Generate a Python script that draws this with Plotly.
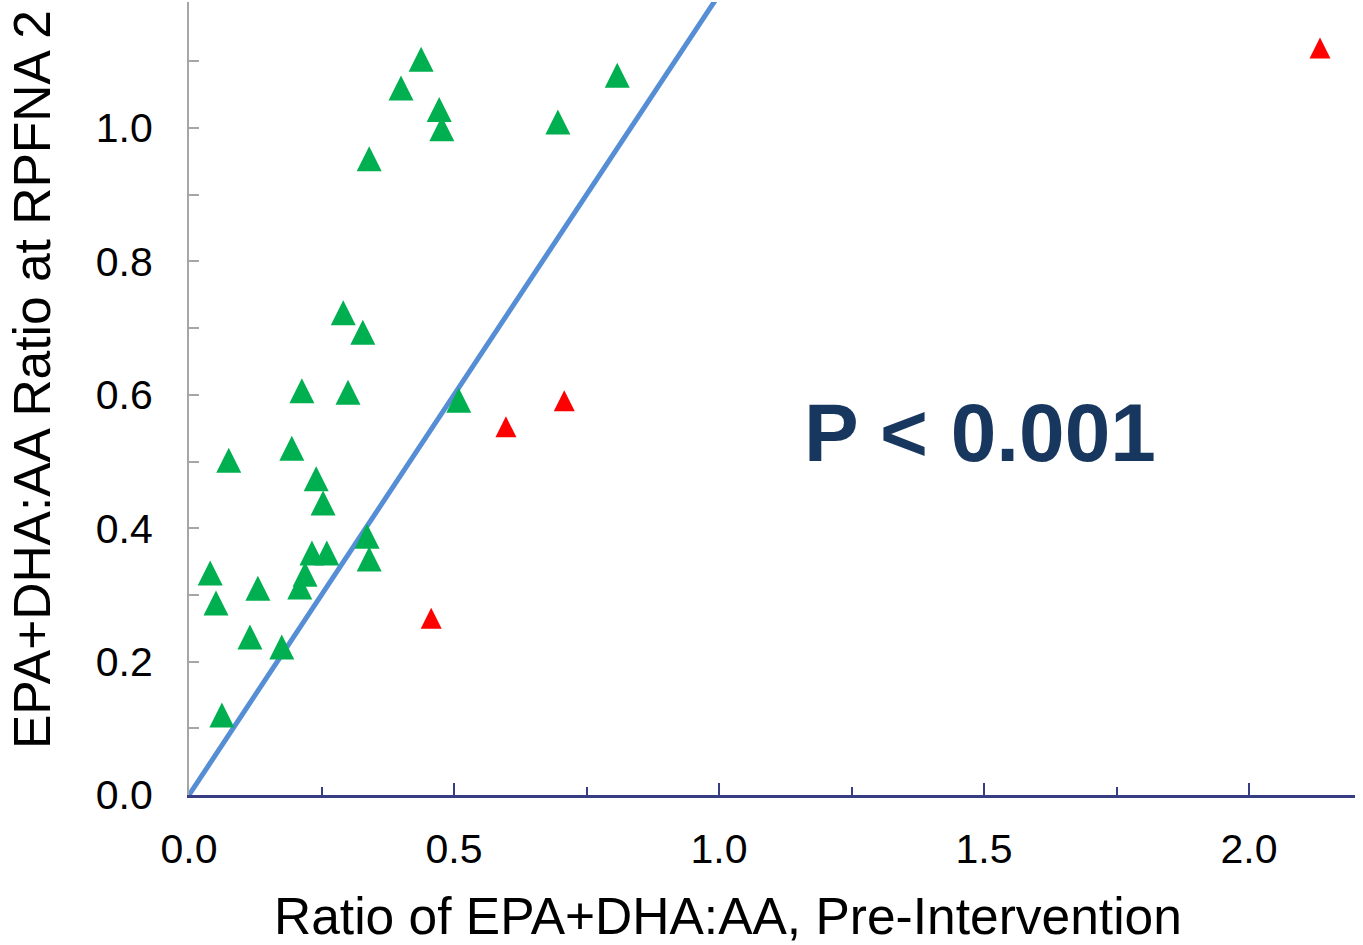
import plotly.graph_objects as go

# Green: responders
green_x = [0.040, 0.051, 0.075, 0.062, 0.115, 0.130, 0.175, 0.194, 0.213, 0.209,
           0.219, 0.232, 0.240, 0.253, 0.260, 0.291, 0.300, 0.328, 0.336, 0.340,
           0.340, 0.400, 0.438, 0.472, 0.477, 0.509, 0.696, 0.808]
green_y = [0.333, 0.288, 0.502, 0.120, 0.237, 0.310, 0.222, 0.520, 0.606, 0.312,
           0.331, 0.363, 0.474, 0.438, 0.363, 0.723, 0.604, 0.694, 0.388, 0.354,
           0.954, 1.060, 1.103, 1.028, 0.999, 0.592, 1.009, 1.079]
# Red: non-responders
red_x = [0.457, 0.598, 0.708, 2.134]
red_y = [0.265, 0.552, 0.591, 1.120]
# Reference line
line_x = [0.0, 1.0]
line_y = [0.0, 1.2]

x_ticks = [0.0, 0.5, 1.0, 1.5, 2.0]
y_ticks = [0.0, 0.2, 0.4, 0.6, 0.8, 1.0]

FONT = "Arial, Liberation Sans, sans-serif"

fig = go.Figure()
fig.add_trace(go.Scatter(x=line_x, y=line_y, mode="lines",
                         line=dict(color="#558ED5", width=5), hoverinfo="skip"))
fig.add_trace(go.Scatter(x=green_x, y=green_y, mode="markers",
                         marker=dict(symbol="arrow-down", angle=180, standoff=12.5,
                                     size=25, color="#00B050", line=dict(width=0))))
fig.add_trace(go.Scatter(x=red_x, y=red_y, mode="markers",
                         marker=dict(symbol="arrow-down", angle=180, standoff=10.5,
                                     size=21, color="#FF0000", line=dict(width=0))))

fig.update_layout(
    width=1363, height=945,
    margin=dict(l=189, r=8, t=2, b=150),
    paper_bgcolor="white", plot_bgcolor="white",
    showlegend=False,
    font=dict(family=FONT, color="black"),
    xaxis=dict(range=[0, 2.2], tickvals=x_ticks, ticktext=[f"{v:.1f}" for v in x_ticks],
               showgrid=False, zeroline=False, showline=True,
               linecolor="#383C82", linewidth=2.5,
               ticks="inside", ticklen=12, tickwidth=2, tickcolor="#383C82",
               minor=dict(dtick=0.25, tick0=0, ticks="inside", ticklen=8,
                          tickwidth=2, tickcolor="#383C82", showgrid=False),
               tickfont=dict(size=41, family=FONT, color="black"),
               ticklabelstandoff=16),
    yaxis=dict(range=[0, 1.189], tickvals=y_ticks, ticktext=[f"{v:.1f}" for v in y_ticks],
               showgrid=False, zeroline=False, showline=True,
               linecolor="#A6A6A6", linewidth=2,
               ticks="inside", ticklen=10, tickwidth=2, tickcolor="#A6A6A6",
               minor=dict(dtick=0.1, tick0=0, ticks="inside", ticklen=10,
                          tickwidth=2, tickcolor="#A6A6A6", showgrid=False),
               tickfont=dict(size=41, family=FONT, color="black"),
               ticklabelstandoff=26),
    annotations=[
        dict(text="Ratio of EPA+DHA:AA, Pre-Intervention", xref="paper", yref="paper",
             x=0.4623, y=-0.1526, xanchor="center", yanchor="middle", showarrow=False,
             font=dict(size=51.5, family=FONT, color="black")),
        dict(text="EPA+DHA:AA Ratio at RPFNA 2", xref="paper", yref="paper",
             x=-0.1346, y=0.5233, xanchor="center", yanchor="middle", showarrow=False,
             textangle=-90, font=dict(size=51.5, family=FONT, color="black")),
        dict(text="<b>P < 0.001</b>", xref="x", yref="y", x=1.492, y=0.544,
             xanchor="center", yanchor="middle", showarrow=False,
             font=dict(size=82, family=FONT, color="#17375E")),
    ],
)

fig.write_html("out.html", config={"displayModeBar": False},
               post_script="document.body.style.margin='0';")
